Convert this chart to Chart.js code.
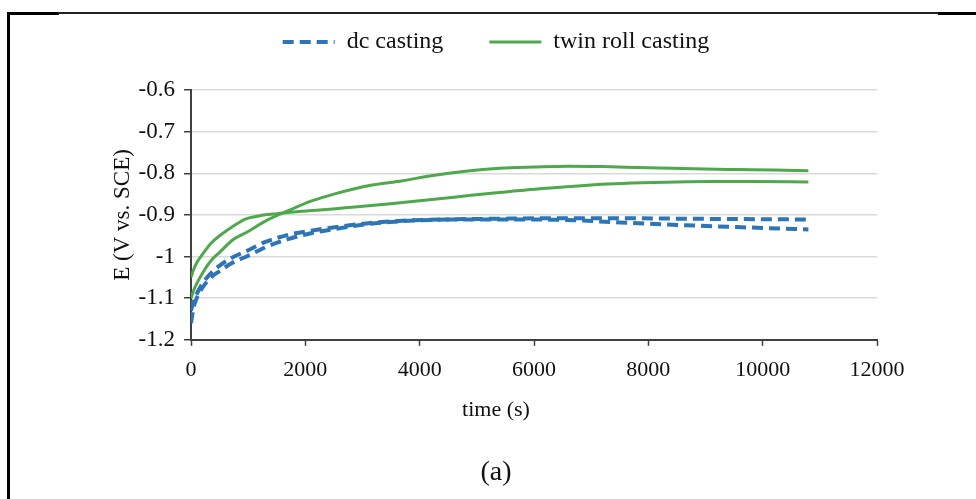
<!DOCTYPE html>
<html><head><meta charset="utf-8">
<script src="https://cdn.jsdelivr.net/npm/chart.js@4/dist/chart.umd.min.js"></script>
<style>
html,body{margin:0;padding:0;background:#fff;}
#wrap{position:relative;width:976px;height:499px;overflow:hidden;background:#fff;}
#c{position:absolute;left:0;top:0;}
.ln{position:absolute;background:#000;}
</style></head><body>
<div id="wrap">
<div class="ln" style="left:7px;top:12px;width:52px;height:3px"></div>
<div class="ln" style="left:58px;top:12px;width:881px;height:2px;background:#222"></div>
<div class="ln" style="left:938px;top:12px;width:38px;height:3px"></div>
<div class="ln" style="left:7px;top:12px;width:3px;height:487px"></div>
<canvas id="c" width="976" height="499"></canvas>
</div>
<script>
const seriesNames = ['dc casting', 'twin roll casting'];

const dcTime1 = [0, 50, 100, 200, 350, 500, 700, 1000, 1300, 1700, 2100, 2600, 3100, 3700, 4500, 5500, 6500, 7500, 8500, 9500, 10800];
const dcE1 = [-1.16, -1.12, -1.10, -1.075, -1.05, -1.035, -1.017, -0.998, -0.978, -0.958, -0.944, -0.932, -0.922, -0.915, -0.911, -0.909, -0.908, -0.908, -0.909, -0.910, -0.911];

const dcTime2 = [0, 50, 100, 200, 350, 500, 700, 1000, 1300, 1700, 2100, 2600, 3100, 3700, 4500, 5500, 6500, 7500, 8500, 9500, 10800];
const dcE2 = [-1.13, -1.105, -1.09, -1.065, -1.04, -1.022, -1.004, -0.985, -0.965, -0.948, -0.938, -0.928, -0.920, -0.914, -0.911, -0.911, -0.912, -0.918, -0.924, -0.929, -0.935];

const trTime1 = [0, 50, 100, 200, 350, 500, 750, 1000, 1300, 1700, 2100, 2500, 3100, 3700, 4200, 4800, 5400, 6000, 6600, 7200, 7800, 8400, 9000, 9600, 10200, 10800];
const trE1 = [-1.10, -1.08, -1.065, -1.04, -1.01, -0.99, -0.958, -0.94, -0.915, -0.89, -0.867, -0.85, -0.83, -0.818, -0.806, -0.795, -0.788, -0.785, -0.783, -0.784, -0.786, -0.788, -0.790, -0.791, -0.792, -0.794];

const trTime2 = [0, 50, 100, 200, 350, 500, 750, 950, 1200, 1500, 1800, 2200, 2700, 3200, 3700, 4300, 4900, 5500, 6100, 6700, 7300, 7900, 8500, 9100, 9800, 10800];
const trE2 = [-1.05, -1.03, -1.015, -0.995, -0.968, -0.95, -0.926, -0.91, -0.902, -0.897, -0.893, -0.889, -0.883, -0.877, -0.870, -0.862, -0.853, -0.845, -0.837, -0.831, -0.826, -0.823, -0.821, -0.820, -0.820, -0.821];

const xTickLabels = ['0', '2000', '4000', '6000', '8000', '10000', '12000'];
const yTickLabels = ['-1.2', '-1.1', '-1', '-0.9', '-0.8', '-0.7', '-0.6'];

const FONT = "'Liberation Serif', 'Times New Roman', serif";
const TXT = '#111';
const BLUE = '#2E75B6';
const GREEN = '#4FA84C';

const pts = (xs, ys) => xs.map((x, i) => ({x: x, y: ys[i]}));

const legendGap = {
  id: 'legendGap',
  afterInit(chart) {
    const lg = chart.legend;
    if (!lg) return;
    const orig = lg.fit.bind(lg);
    lg.fit = function () { orig(); this.height += 26; };
  }
};

const chart = new Chart(document.getElementById('c'), {
  type: 'line',
  data: {
    datasets: [
      {label: seriesNames[0], data: pts(dcTime1, dcE1), borderColor: BLUE, backgroundColor: BLUE, borderWidth: 4, borderDash: [11, 6]},
      {label: seriesNames[0], data: pts(dcTime2, dcE2), borderColor: BLUE, backgroundColor: BLUE, borderWidth: 4, borderDash: [11, 6]},
      {label: seriesNames[1], data: pts(trTime1, trE1), borderColor: GREEN, backgroundColor: GREEN, borderWidth: 3},
      {label: seriesNames[1], data: pts(trTime2, trE2), borderColor: GREEN, backgroundColor: GREEN, borderWidth: 3}
    ]
  },
  plugins: [legendGap],
  options: {
    animation: false,
    responsive: false,
    devicePixelRatio: 1,
    layout: {padding: {top: -16, left: 115, right: 99, bottom: 9.4}},
    elements: {point: {radius: 0}, line: {cubicInterpolationMode: 'monotone', fill: false}},
    scales: {
      x: {
        type: 'linear', min: 0, max: 12000,
        ticks: {stepSize: 2000, padding: 11, color: TXT, font: {family: FONT, size: 22},
          callback: (v) => { const s = String(Math.round(v)); return xTickLabels.includes(s) ? s : ''; }},
        grid: {drawOnChartArea: false, drawTicks: true, tickLength: 6, tickColor: '#404040', tickWidth: 1.5},
        border: {display: true, color: '#404040', width: 2},
        afterFit(s) { s.height = 45; }
      },
      y: {
        min: -1.2, max: -0.6,
        ticks: {stepSize: 0.1, padding: 9, color: TXT, font: {family: FONT, size: 23},
          callback: (v) => { const s = String(+v.toFixed(1)); return yTickLabels.includes(s) ? s : ''; }},
        grid: {color: '#d9d9d9', lineWidth: 1.5, tickLength: 7, tickColor: '#404040', tickWidth: 1.5},
        border: {display: true, color: '#404040', width: 2},
        title: {display: true, text: 'E (V vs. SCE)', color: TXT, font: {family: FONT, size: 23}, padding: {top: -6, bottom: 0}},
        afterFit(s) { s.width = 76; }
      }
    },
    plugins: {
      legend: {
        position: 'top', align: 'center',
        labels: {usePointStyle: true, pointStyle: 'line', pointStyleWidth: 52, padding: 46, color: TXT,
          font: {family: FONT, size: 24},
          filter: (it) => it.datasetIndex === 0 || it.datasetIndex === 2,
          generateLabels(chart) {
            const items = Chart.defaults.plugins.legend.labels.generateLabels(chart);
            items.forEach((it) => {
              const ds = chart.data.datasets[it.datasetIndex];
              it.lineDash = ds.borderDash || [];
              it.lineWidth = ds.borderWidth;
              it.strokeStyle = ds.borderColor;
              it.fillStyle = ds.borderColor;
              it.pointStyle = 'line';
            });
            return items;
          }}
      },
      subtitle: {display: true, position: 'bottom', text: 'time (s)', color: TXT,
        font: {family: FONT, size: 22, weight: 'normal'}, padding: {top: 11.8, bottom: 0}},
      title: {display: true, position: 'bottom', text: '(a)', color: TXT,
        font: {family: FONT, size: 28, weight: 'normal'}, padding: {top: 33, bottom: 0}},
      tooltip: {enabled: false}
    }
  }
});
</script>
</body></html>
